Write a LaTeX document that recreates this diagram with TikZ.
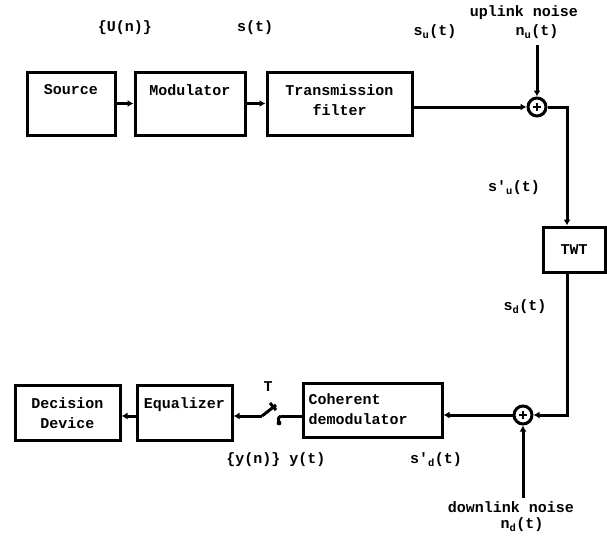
\documentclass[tikz,border=0pt]{standalone}
\usepackage{fontspec}
\setmonofont{Liberation Mono}
\usetikzlibrary{arrows.meta,calc}
\begin{document}
\begin{tikzpicture}[x=1pt,y=-1pt,
  every node/.style={font=\fontsize{15}{20}\selectfont\ttfamily\bfseries},
  blk/.style={draw,line width=3pt,inner sep=0pt},
  wire/.style={line width=3pt},
  arr/.style={wire,-{Latex[length=6pt,width=7pt]}},
  sumc/.style={draw,circle,line width=3pt,minimum size=18pt,inner sep=0pt},
  lbl/.style={inner sep=0pt},
  toptext/.style={lbl,anchor=north,yshift=-14pt,align=center},
]
\useasboundingbox (0,0) rectangle (607,541);

% top row
\node[blk,minimum width=88pt,minimum height=63pt,label={[toptext]north:Source}] (src) at (71,103.5) {};
\node[blk,minimum width=110pt,minimum height=63pt,label={[toptext]north:Modulator}] (mod) at (190,103.5) {};
\node[blk,minimum width=145pt,minimum height=63pt,label={[toptext]north:Transmission\\filter}] (trf) at (339.5,103.5) {};
\node[sumc] (s1) at (537,107) {};
\draw[line width=1.8pt] ($(s1)+(-4,0)$) -- ($(s1)+(4,0)$) ($(s1)+(0,-4)$) -- ($(s1)+(0,4)$);
\coordinate (nu) at (537,45);

% TWT
\node[blk,minimum width=62pt,minimum height=45pt] (twt) at (574,249.5) {TWT};

% bottom row
\node[sumc] (s2) at (523,415) {};
\draw[line width=1.8pt] ($(s2)+(-4,0)$) -- ($(s2)+(4,0)$) ($(s2)+(0,-4)$) -- ($(s2)+(0,4)$);
\coordinate (nd) at (523,498);
\node[blk,minimum width=139pt,minimum height=54pt,label={[lbl,anchor=north west,align=left,xshift=7pt,yshift=-12pt]north west:Coherent\\demodulator}] (coh) at (372.5,410) {};
\node[blk,minimum width=95pt,minimum height=55pt,label={[toptext]north:Equalizer}] (eq) at (184.5,412.5) {};
\node[blk,minimum width=105pt,minimum height=55pt,label={[toptext]north:Decision\\Device}] (dec) at (67.5,412.5) {};
\coordinate (sw1) at (262,416);
\coordinate (sw2) at (281,416);

% connectors
\draw[arr] (src.east) -- (mod.west);
\draw[arr] (mod.east) -- (trf.west);
\draw[arr] (s1 -| trf.east) -- (s1.west);
\draw[arr] (nu) -- (s1.north);
\draw[arr] (s1.east) -| ([xshift=-7pt]twt.north);
\draw[arr] ([xshift=-7pt]twt.south) |- (s2.east);
\draw[arr] (nd) -- (s2.south);
\draw[arr] (s2.west) -- (s2 -| coh.east);
\draw[wire] (sw2 -| coh.west) -- (sw2);
\draw[wire] (sw2) .. controls (278,418) .. (279,423);
\fill (279,423) circle (2.4pt);
\draw[wire] (sw1) -- (276,405);
\draw[wire] (270,403) -- (276,410);
\draw[arr] (sw1) -- (sw1 -| eq.east);
\draw[arr] (sw1 -| eq.west) -- (sw1 -| dec.east);

% labels
\node[lbl] (lU) at (125,28) {\{U(n)\}};
\node[lbl] (ls) at (255,28) {s(t)};
\node[lbl] (lsu) at (435,32) {s\textsubscript{u}(t)};
\node[lbl] (lup) at (524,13) {uplink noise};
\node[lbl] (lnu) at (537,32) {n\textsubscript{u}(t)};
\node[lbl] (lsu2) at (514,188) {s'\textsubscript{u}(t)};
\node[lbl] (lsd) at (525,307) {s\textsubscript{d}(t)};
\node[lbl] (lT) at (268,387) {T};
\node[lbl] (ly) at (276,460) {\{y(n)\} y(t)};
\node[lbl] (lsd2) at (436,460) {s'\textsubscript{d}(t)};
\node[lbl] (ldn) at (511,507) {downlink noise};
\node[lbl] (lnd) at (522,525) {n\textsubscript{d}(t)};
\end{tikzpicture}
\end{document}
